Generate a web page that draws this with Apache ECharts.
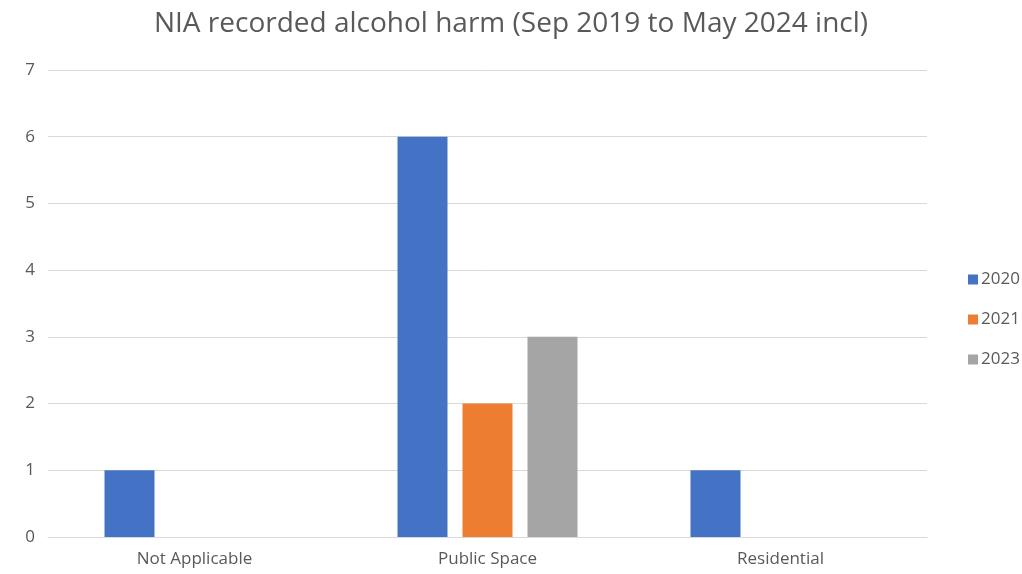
<!DOCTYPE html>
<html><head><meta charset="utf-8">
<script src="https://cdn.jsdelivr.net/npm/echarts@6/dist/echarts.min.js"></script>
<style>html,body{margin:0;padding:0;background:#fff}#c{width:1022px;height:574px}</style>
</head><body><div id="c"></div>
<script>
const categories = ['Not Applicable', 'Public Space', 'Residential'];
const seriesNames = ['2020', '2021', '2023'];
const values2020 = [1, 6, 1];
const values2021 = [null, 2, null];
const values2023 = [null, 3, null];
const yTicks = [0, 1, 2, 3, 4, 5, 6, 7];
const colors = ['#4472C4', '#ED7D31', '#A5A5A5'];
const font = '"Open Sans", sans-serif';
const chart = echarts.init(document.getElementById('c'));
const data = [values2020, values2021, values2023];
chart.setOption({
  animation: false,
  title: {text: 'NIA recorded alcohol harm (Sep 2019 to May 2024 incl)', left: 'center', top: 5,
    textStyle: {fontFamily: font, fontSize: 28, fontWeight: 'normal', color: '#595959'}},
  legend: {orient: 'vertical', left: 963, top: 266, itemWidth: 10, itemHeight: 10, itemGap: 23,
    icon: 'rect', data: seriesNames,
    textStyle: {fontFamily: font, fontSize: 17, color: '#595959', padding: [0, 0, 0, -2]}},
  grid: {left: 48, right: 95, top: 70, bottom: 37, containLabel: false},
  xAxis: {type: 'category', data: categories,
    axisLine: {lineStyle: {color: '#D9D9D9'}}, axisTick: {show: false},
    axisLabel: {fontFamily: font, fontSize: 17, color: '#595959', margin: 14}},
  yAxis: {type: 'value', min: yTicks[0], max: yTicks[yTicks.length - 1], interval: 1,
    axisLine: {show: false}, axisTick: {show: false},
    splitLine: {lineStyle: {color: '#D9D9D9'}},
    axisLabel: {fontFamily: font, fontSize: 17, color: '#595959', margin: 13}},
  series: seriesNames.map((n, i) => ({name: n, type: 'bar', data: data[i], barWidth: 50, barGap: '30%',
    itemStyle: {color: colors[i]}}))
});
</script></body></html>
